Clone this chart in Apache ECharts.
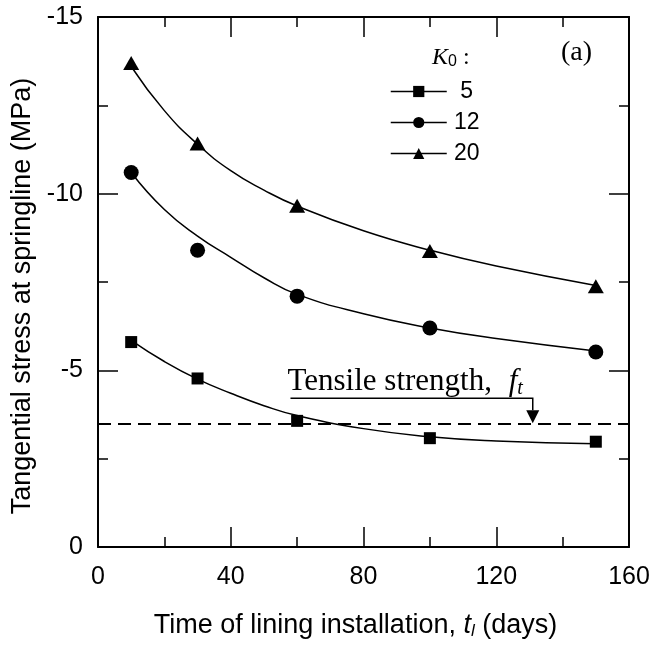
<!DOCTYPE html>
<html>
<head>
<meta charset="utf-8">
<script src="https://cdn.jsdelivr.net/npm/echarts@6/dist/echarts.min.js"></script>
<style>html,body{margin:0;padding:0;background:#fff}#c{width:658px;height:648px}</style>
</head>
<body>
<div id="c"></div>
<script>
// ---- data ----
const timeDays = [10, 30, 60, 100, 150];
const k0Labels = ['5', '12', '20'];
const k5 = [-5.8, -4.77, -3.57, -3.08, -2.98];
const k12 = [-10.6, -8.4, -7.1, -6.2, -5.52];
const k20 = [-13.7, -11.42, -9.66, -8.38, -7.38];
const curveX = [10, 20, 30, 40, 50, 60, 80, 100, 120, 150];
const fit5 = [-5.85, -5.25, -4.75, -4.35, -4.0, -3.72, -3.35, -3.12, -3.0, -2.92];
const fit12 = [-10.6, -9.55, -8.8, -8.2, -7.62, -7.15, -6.6, -6.2, -5.9, -5.55];
const fit20 = [-13.6, -12.35, -11.4, -10.65, -10.1, -9.65, -8.95, -8.4, -7.95, -7.4];
const tensileStrength = -3.5;
const xTicks = [0, 40, 80, 120, 160];
const yTicks = [0, -5, -10, -15];
// annotation anchor (data coordinates)
const noteStartX = 58, noteEndX = 131, noteY = -4.21;

const pairs = (xs, ys) => xs.map((x, i) => [x, ys[i]]);
const SANS = 'Liberation Sans, Arial, sans-serif';
const SERIF = 'Liberation Serif, Times New Roman, serif';

const chart = echarts.init(document.getElementById('c'), null, {renderer: 'canvas'});

const frameLine = {show: true, onZero: false, lineStyle: {color: '#000', width: 2}};
const baseX = {
  type: 'value', min: xTicks[0], max: xTicks[xTicks.length - 1], interval: 40,
  axisLine: frameLine, splitLine: {show: false},
  axisTick: {show: true, inside: true, length: 20, lineStyle: {color: '#000', width: 1.5}},
  minorTick: {show: true, splitNumber: 2, length: 10, lineStyle: {color: '#000', width: 1.5}}
};
const baseY = {
  type: 'value', min: yTicks[yTicks.length - 1], max: yTicks[0], interval: 5, inverse: true,
  axisLine: frameLine, splitLine: {show: false},
  axisTick: {show: true, inside: true, length: 20, lineStyle: {color: '#000', width: 1.5}},
  minorTick: {show: true, splitNumber: 2, length: 10, lineStyle: {color: '#000', width: 1.5}}
};

const fitSeries = (d) => ({
  type: 'line', data: pairs(curveX, d), smooth: 0.5, showSymbol: false, silent: true,
  lineStyle: {color: '#000', width: 1.5}, z: 2
});
const markSeries = (name, d, symbol, size) => ({
  name: name, type: 'line', data: pairs(timeDays, d), symbol: symbol, symbolSize: size,
  showSymbol: true, itemStyle: {color: '#000'}, lineStyle: {width: 0, opacity: 0}, z: 3
});

const option = {
  animation: false,
  backgroundColor: '#fff',
  grid: {left: 98, right: 29, top: 17, bottom: 101},
  xAxis: [
    Object.assign({}, baseX, {
      position: 'bottom',
      axisLabel: {show: true, margin: 18, color: '#000', fontFamily: SANS, fontSize: 25},
      name: '{n|Time of lining installation, }{i|t}{s|l}{n| (days)}',
      nameLocation: 'middle', nameGap: 64,
      nameTextStyle: {
        color: '#000', fontFamily: SANS, fontSize: 27, padding: [0, 16, 0, 0],
        rich: {
          n: {fontFamily: SANS, fontSize: 27, color: '#000'},
          i: {fontFamily: SANS, fontSize: 27, fontStyle: 'italic', color: '#000'},
          s: {fontFamily: SANS, fontSize: 17, fontStyle: 'italic', color: '#000', padding: [12, 0, 0, 0]}
        }
      }
    }),
    Object.assign({}, baseX, {position: 'top', axisLabel: {show: false}})
  ],
  yAxis: [
    Object.assign({}, baseY, {
      position: 'left',
      axisLabel: {show: true, margin: 15, color: '#000', fontFamily: SANS, fontSize: 25},
      name: 'Tangential stress at springline (MPa)',
      nameLocation: 'middle', nameGap: 59,
      nameTextStyle: {color: '#000', fontFamily: SANS, fontSize: 27, padding: [0, 28, 0, 0]}
    }),
    Object.assign({}, baseY, {position: 'right', axisLabel: {show: false}})
  ],
  legend: {
    orient: 'vertical', left: 390, top: 80, padding: 0,
    itemWidth: 56, itemHeight: 14, itemGap: 8,
    data: k0Labels,
    lineStyle: {color: '#000', width: 1.5, opacity: 1, type: 'solid'},
    itemStyle: {color: '#000'},
    formatter: (n) => '{c|' + n + '}',
    textStyle: {
      color: '#000', fontFamily: SANS, fontSize: 23,
      rich: {c: {width: 30, align: 'center', fontFamily: SANS, fontSize: 23, color: '#000'}}
    },
    selectedMode: false
  },
  series: [
    fitSeries(fit5), fitSeries(fit12), fitSeries(fit20),
    markSeries(k0Labels[0], k5, 'rect', 12),
    markSeries(k0Labels[1], k12, 'circle', 15),
    markSeries(k0Labels[2], k20, 'triangle', [16, 14]),
    {
      type: 'line', data: [], silent: true,
      markLine: {
        silent: true, symbol: ['none', 'none'], label: {show: false},
        lineStyle: {color: '#000', width: 2, type: [13, 7]},
        data: [{yAxis: tensileStrength}]
      }
    }
  ]
};
chart.setOption(option);

// annotations placed from data coordinates
const p0 = chart.convertToPixel({xAxisIndex: 0, yAxisIndex: 0}, [noteStartX, noteY]);
const p1 = chart.convertToPixel({xAxisIndex: 0, yAxisIndex: 0}, [noteEndX, noteY]);
const pt = chart.convertToPixel({xAxisIndex: 0, yAxisIndex: 0}, [noteEndX, tensileStrength]);
const headH = 13, headW = 13;
chart.setOption({
  graphic: [
    {type: 'polyline', shape: {points: [p0, p1, [p1[0], pt[1] - headH]]},
     style: {stroke: '#000', lineWidth: 1.5, fill: null}, z: 10},
    {type: 'polygon', shape: {points: [[pt[0] - headW / 2, pt[1] - headH], [pt[0] + headW / 2, pt[1] - headH], [pt[0], pt[1]]]},
     style: {fill: '#000'}, z: 10},
    {type: 'text', x: p0[0] - 3, y: p0[1] + 1, z: 10,
     style: {text: '{n|Tensile strength, }{f|f}{t|t}', textVerticalAlign: 'bottom', textAlign: 'left',
       rich: {
         n: {fontFamily: SERIF, fontSize: 31, fill: '#000'},
         f: {fontFamily: SERIF, fontSize: 31, fontStyle: 'italic', fill: '#000', padding: [0, 0, 0, 9]},
         t: {fontFamily: SERIF, fontSize: 20, fontStyle: 'italic', fill: '#000', padding: [14, 0, 0, 0]}
       }}},
    {type: 'text', x: 432, y: 58, z: 10,
     style: {text: '{k|K}{s|0}{c| :}', textVerticalAlign: 'middle',
       rich: {
         k: {fontFamily: SERIF, fontSize: 24, fontStyle: 'italic', fill: '#000'},
         s: {fontFamily: SANS, fontSize: 16, fill: '#000', padding: [8, 0, 0, 0]},
         c: {fontFamily: SERIF, fontSize: 24, fill: '#000'}
       }}},
    {type: 'text', x: 561, y: 53, z: 10,
     style: {text: '(a)', textVerticalAlign: 'middle', font: '28px ' + SERIF, fill: '#000'}}
  ]
});
</script>
</body>
</html>
